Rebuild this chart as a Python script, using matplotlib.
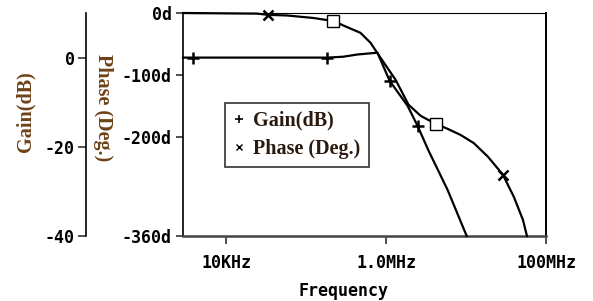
import matplotlib
matplotlib.use('Agg')
import matplotlib.pyplot as plt
from matplotlib.lines import Line2D

# Bode data
phase_freq = [2.9e3, 24.5e3, 33.7e3, 58e3, 123e3, 220e3, 329e3, 479e3, 640e3, 782e3,
              1.32e6, 1.91e6, 2.71e6, 4.18e6, 5.9e6, 8.6e6, 12.5e6, 18.8e6, 28.9e6,
              39.7e6, 51.5e6, 57.8e6]
phase_deg = [0, -1, -3, -4, -8, -13, -23, -32, -48, -65,
             -108, -148, -166, -179, -187, -197, -210, -232, -261,
             -297, -334, -360]

gain_freq = [2.9e3, 3.85e3, 185e3, 293e3, 440e3, 782e3, 1.11e6, 1.86e6, 2.48e6,
             3.41e6, 5.9e6, 10.2e6]
gain_db = [0, 0, 0, 0.2, 0.7, 1.1, -5.2, -10.8, -15.3, -20.9, -29.7, -40]

x_ticks = [1e4, 1e6, 1e8]
x_ticklabels = ['10KHz', '1.0MHz', '100MHz']
phase_ticks = [0, -100, -200, -360]
phase_ticklabels = ['0d', '-100d', '-200d', '-360d']
gain_ticks = [0, -20, -40]
gain_ticklabels = ['0', '-20', '-40']

W, H = 593, 301
fig = plt.figure(figsize=(W / 100, H / 100), dpi=100)
left, right, top, bottom = 183, 546, 13, 236
ax = fig.add_axes([left / W, 1 - bottom / H, (right - left) / W, (bottom - top) / H])

mono = dict(family='DejaVu Sans Mono', weight='bold', size=12)
serif = dict(family='Liberation Serif', weight='bold', size=14.5)
label_col = '#6e4218'

# phase on main axis
ax.set_xscale('log')
ax.set_xlim(2.9e3, 1e8)
ax.set_ylim(-360, 0)
ax.plot(phase_freq, phase_deg, color='black', lw=1.6, clip_on=False, zorder=3)
ax.plot([phase_freq[i] for i in (5, 13)], [phase_deg[i] for i in (5, 13)], 's',
        ms=8, mfc='white', mec='black', mew=1.0, clip_on=False, zorder=4)
ax.plot([phase_freq[i] for i in (2, 18)], [phase_deg[i] for i in (2, 18)], 'x',
        ms=7, color='black', mew=1.8, clip_on=False, zorder=4)

ax.set_xticks(x_ticks)
ax.set_xticklabels(x_ticklabels, **mono)
ax.minorticks_off()
ax.set_yticks(phase_ticks)
ax.set_yticklabels(phase_ticklabels, **mono)
ax.tick_params(axis='x', direction='out', length=6, width=1.2, pad=7, color='#333333')
ax.tick_params(axis='y', direction='out', length=5, width=1.2, pad=3, color='#333333')
ax.spines['top'].set_linewidth(0.8)
ax.spines['left'].set_linewidth(1.2)
ax.spines['right'].set_linewidth(1.4)
ax.spines['bottom'].set_linewidth(1.8)
ax.spines['bottom'].set_color('#444444')
ax.set_xlabel('Frequency', **mono)
ax.xaxis.set_label_coords((344 - left) / (right - left), (bottom - 291) / (bottom - top))
ax.xaxis.label.set_va('center')
ax.set_ylabel('Phase (Deg.)', rotation=270, color=label_col, va='center', ha='center', **serif)
ax.yaxis.set_label_coords((103 - left) / (right - left), (bottom - 108) / (bottom - top))

# gain on a second axis pushed to the left
ax2 = ax.twinx()
ax2.set_ylim(-40, 10)
ax2.plot(gain_freq, gain_db, color='black', lw=1.6, clip_on=False, zorder=3)
ax2.plot([gain_freq[i] for i in (1, 2, 6, 8)], [gain_db[i] for i in (1, 2, 6, 8)], '+',
         ms=8, color='black', mew=1.8, clip_on=False, zorder=4)
ax2.yaxis.set_ticks_position('left')
ax2.yaxis.set_label_position('left')
ax2.spines['left'].set_position(('axes', (86 - left) / (right - left)))
ax2.spines['left'].set_linewidth(1.2)
for s in ('right', 'top', 'bottom'):
    ax2.spines[s].set_visible(False)
ax2.set_yticks(gain_ticks)
ax2.set_yticklabels(gain_ticklabels, **mono)
ax2.tick_params(axis='y', direction='out', length=6, width=1.2, pad=2, color='#333333')
ax2.set_ylabel('Gain(dB)', rotation=90, color=label_col, va='center', ha='center', **serif)
ax2.yaxis.set_label_coords((25 - left) / (right - left), (bottom - 112) / (bottom - top))

handles = [Line2D([], [], marker='+', ls='none', color='black', ms=6, mew=1.2),
           Line2D([], [], marker='x', ls='none', color='black', ms=5, mew=1.0)]
leg = ax.legend(handles, ['Gain(dB)', 'Phase (Deg.)'], loc='lower left',
                bbox_to_anchor=((225 - left) / (right - left), (bottom - 167) / (bottom - top)),
                prop=serif, frameon=True, fancybox=False, edgecolor='black',
                handlelength=0.6, handletextpad=0.4, borderpad=0.4, labelspacing=0.4,
                borderaxespad=0)
leg.get_frame().set_linewidth(1.2)
for t in leg.get_texts():
    t.set_color('#2a1a10')

fig.savefig('out.png', dpi=100)
